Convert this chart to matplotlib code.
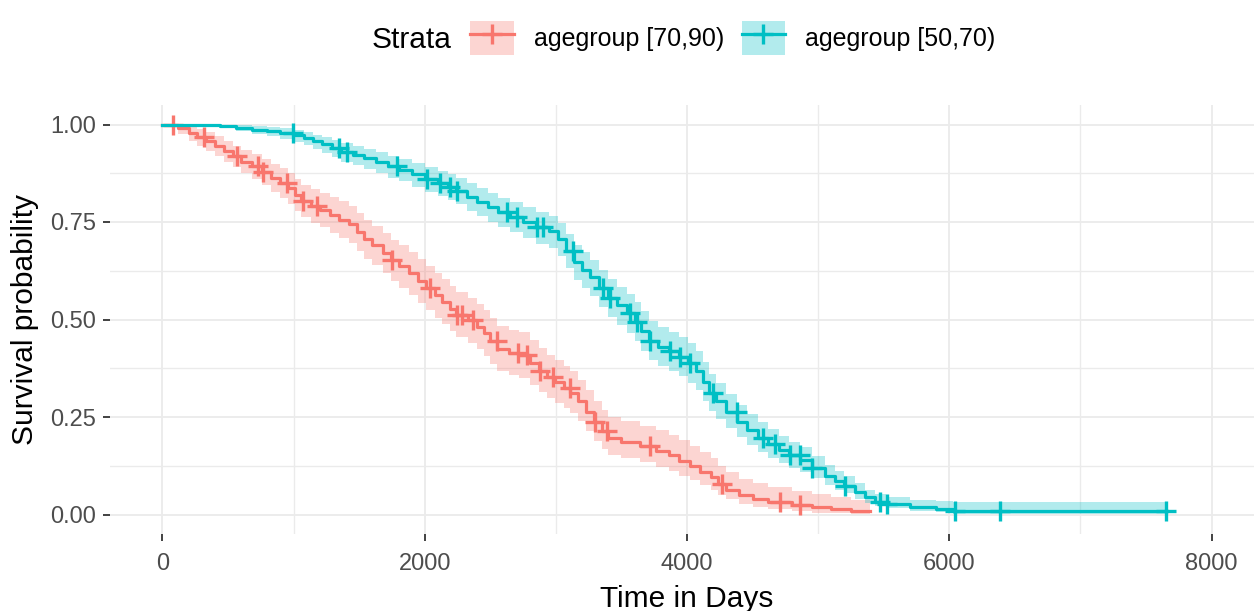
import numpy as np
import matplotlib
matplotlib.use("Agg")
import matplotlib.pyplot as plt
from matplotlib.patches import Patch
from matplotlib.lines import Line2D
from matplotlib.legend_handler import HandlerTuple

plt.rcParams['font.family'] = ['Liberation Sans', 'DejaVu Sans']

# agegroup [70,90): step times, survival, lower / upper CI
old_t = [0, 120, 200, 260, 330, 400, 470, 540, 600, 680, 760, 830, 900, 960, 1010,
         1060, 1130, 1200, 1280, 1350, 1420, 1480, 1540, 1600, 1680, 1740, 1800, 1880,
         1950, 2010, 2080, 2130, 2190, 2240, 2330, 2400, 2450, 2500, 2550, 2640, 2720,
         2800, 2870, 2930, 2990, 3060, 3110, 3170, 3230, 3290, 3350, 3400, 3500, 3640,
         3760, 3860, 3940, 4020, 4100, 4180, 4240, 4300, 4400, 4500, 4620, 4800, 4950,
         5100, 5250, 5393]
old_s = [1.000, 0.990, 0.978, 0.968, 0.958, 0.945, 0.932, 0.918, 0.905, 0.893, 0.878,
         0.864, 0.850, 0.836, 0.818, 0.803, 0.790, 0.780, 0.768, 0.756, 0.744, 0.725,
         0.706, 0.690, 0.670, 0.652, 0.636, 0.618, 0.598, 0.580, 0.562, 0.546, 0.528,
         0.512, 0.498, 0.482, 0.465, 0.445, 0.425, 0.415, 0.408, 0.388, 0.368, 0.352,
         0.340, 0.325, 0.312, 0.290, 0.262, 0.236, 0.214, 0.197, 0.187, 0.176, 0.164,
         0.152, 0.138, 0.124, 0.110, 0.096, 0.078, 0.064, 0.050, 0.040, 0.032, 0.024,
         0.018, 0.013, 0.008, 0.008]
old_lo = [1.000, 0.975, 0.958, 0.945, 0.933, 0.918, 0.905, 0.890, 0.875, 0.860, 0.844,
          0.828, 0.812, 0.797, 0.778, 0.762, 0.748, 0.736, 0.723, 0.710, 0.697, 0.676,
          0.656, 0.640, 0.618, 0.599, 0.582, 0.563, 0.542, 0.524, 0.505, 0.489, 0.470,
          0.454, 0.440, 0.424, 0.407, 0.387, 0.368, 0.358, 0.351, 0.332, 0.313, 0.298,
          0.286, 0.272, 0.260, 0.239, 0.213, 0.189, 0.169, 0.153, 0.144, 0.134, 0.123,
          0.112, 0.100, 0.088, 0.076, 0.064, 0.050, 0.039, 0.028, 0.020, 0.014, 0.009,
          0.005, 0.003, 0.001, 0.001]
old_hi = [1.000, 1.000, 0.993, 0.988, 0.980, 0.970, 0.958, 0.945, 0.934, 0.925, 0.912,
          0.900, 0.888, 0.875, 0.860, 0.846, 0.834, 0.825, 0.814, 0.803, 0.792, 0.774,
          0.756, 0.741, 0.722, 0.705, 0.690, 0.673, 0.654, 0.637, 0.620, 0.604, 0.586,
          0.570, 0.556, 0.541, 0.524, 0.504, 0.484, 0.474, 0.467, 0.447, 0.426, 0.410,
          0.397, 0.382, 0.368, 0.346, 0.318, 0.291, 0.268, 0.250, 0.240, 0.228, 0.216,
          0.204, 0.190, 0.175, 0.160, 0.144, 0.124, 0.108, 0.092, 0.080, 0.070, 0.060,
          0.052, 0.045, 0.038, 0.038]
old_cens = [80, 320, 572, 725, 763, 946, 1068, 1182, 1754, 2037, 2243, 2288, 2365, 2548,
            2708, 2777, 2876, 2975, 3105, 3295, 3387, 3715, 4264, 4707, 4859]

# agegroup [50,70)
young_t = [0, 440, 560, 680, 800, 900, 1000, 1080, 1150, 1220, 1290, 1360, 1450, 1540,
           1630, 1720, 1800, 1900, 2000, 2100, 2180, 2240, 2320, 2400, 2480, 2560, 2650,
           2750, 2850, 2950, 3020, 3080, 3140, 3200, 3260, 3330, 3400, 3470, 3540, 3600,
           3650, 3710, 3780, 3860, 3940, 4010, 4070, 4120, 4170, 4220, 4300, 4380, 4460,
           4540, 4620, 4700, 4780, 4860, 4950, 5050, 5130, 5200, 5280, 5360, 5430, 5520,
           5700, 5900, 6030, 7659]
young_s = [1.000, 0.997, 0.992, 0.987, 0.983, 0.978, 0.972, 0.965, 0.957, 0.950, 0.940,
           0.930, 0.922, 0.913, 0.903, 0.893, 0.884, 0.872, 0.860, 0.850, 0.840, 0.830,
           0.815, 0.802, 0.789, 0.776, 0.764, 0.750, 0.736, 0.726, 0.706, 0.676, 0.648,
           0.628, 0.608, 0.580, 0.556, 0.536, 0.516, 0.494, 0.470, 0.446, 0.430, 0.418,
           0.405, 0.388, 0.368, 0.340, 0.312, 0.290, 0.264, 0.238, 0.216, 0.196, 0.180,
           0.166, 0.152, 0.140, 0.120, 0.100, 0.086, 0.074, 0.058, 0.044, 0.033, 0.028,
           0.020, 0.015, 0.008, 0.008]
young_lo = [1.000, 0.991, 0.983, 0.976, 0.970, 0.964, 0.956, 0.947, 0.937, 0.928, 0.916,
            0.905, 0.896, 0.886, 0.875, 0.864, 0.854, 0.841, 0.828, 0.817, 0.806, 0.795,
            0.779, 0.765, 0.751, 0.737, 0.724, 0.709, 0.694, 0.683, 0.662, 0.631, 0.602,
            0.581, 0.560, 0.531, 0.507, 0.486, 0.466, 0.444, 0.420, 0.396, 0.380, 0.368,
            0.355, 0.338, 0.318, 0.292, 0.266, 0.245, 0.221, 0.198, 0.178, 0.160, 0.146,
            0.133, 0.120, 0.110, 0.093, 0.076, 0.064, 0.054, 0.041, 0.030, 0.021, 0.016,
            0.010, 0.006, 0.002, 0.002]
young_hi = [1.000, 1.000, 1.000, 0.996, 0.993, 0.990, 0.986, 0.980, 0.974, 0.968, 0.960,
            0.952, 0.945, 0.937, 0.929, 0.920, 0.912, 0.901, 0.890, 0.881, 0.872, 0.863,
            0.849, 0.836, 0.824, 0.812, 0.801, 0.788, 0.775, 0.766, 0.747, 0.718, 0.691,
            0.672, 0.653, 0.626, 0.603, 0.584, 0.565, 0.544, 0.521, 0.497, 0.481, 0.469,
            0.456, 0.439, 0.419, 0.390, 0.360, 0.337, 0.310, 0.282, 0.258, 0.236, 0.218,
            0.202, 0.187, 0.173, 0.150, 0.128, 0.112, 0.098, 0.080, 0.064, 0.052, 0.045,
            0.036, 0.034, 0.033, 0.033]
young_cens = [992, 1350, 1404, 1785, 2014, 2113, 2189, 2243, 2624, 2700, 2853, 2899, 3128,
              3356, 3410, 3562, 3616, 3715, 3867, 3944, 4020, 4195, 4379, 4577, 4669, 4783,
              4859, 4950, 5202, 5469, 5523, 6041, 6385, 7650]

labels = ["agegroup [70,90)", "agegroup [50,70)"]
colors = ["#F8766D", "#00BFC4"]

W, H = 1254, 611
fig = plt.figure(figsize=(W / 100, H / 100), dpi=100)
ax = fig.add_axes([110 / W, 1 - 534 / H, (1264 - 110) / W, (534 - 105) / H])

groups = [(old_t, old_s, old_lo, old_hi, old_cens),
          (young_t, young_s, young_lo, young_hi, young_cens)]

for (t, s, lo, hi, cens), col in zip(groups, colors):
    ax.fill_between(t, lo, hi, step="post", color=col, alpha=0.3, lw=0)
for (t, s, lo, hi, cens), col in zip(groups, colors):
    ax.step(t, s, where="post", color=col, lw=2.3)
    idx = np.searchsorted(t, cens, side="right") - 1
    ax.plot(cens, np.array(s)[idx], ls="none", marker="+", color=col,
            markersize=15, markeredgewidth=2.4)

ax.set_xlim(-400, 8400)
ax.set_ylim(-0.05, 1.05)
ax.set_xticks([0, 2000, 4000, 6000, 8000])
ax.set_xticks([1000, 3000, 5000, 7000], minor=True)
ax.set_yticks([0, 0.25, 0.5, 0.75, 1.0])
ax.set_yticklabels(["0.00", "0.25", "0.50", "0.75", "1.00"])
ax.set_yticks([0.125, 0.375, 0.625, 0.875], minor=True)
ax.grid(True, which="major", color="#EBEBEB", lw=1.3)
ax.grid(True, which="minor", color="#EBEBEB", lw=1.0)
ax.set_axisbelow(True)
for sp in ax.spines.values():
    sp.set_visible(False)
ax.tick_params(which="major", length=5, width=1.3, color="#333333",
               labelsize=17, labelcolor="#4D4D4D", pad=5)
ax.tick_params(axis="x", which="major", pad=9)
ax.tick_params(which="minor", length=0)

ax.set_xlabel("Time in Days", fontsize=21.5, labelpad=7)
ax.set_ylabel("Survival probability", fontsize=21.5, labelpad=8)

fig.text(372 / W, 1 - 40 / H, "Strata", fontsize=21.5, va="center", ha="left")
handles = []
for col in colors:
    handles.append((Patch(facecolor=col, alpha=0.3, lw=0),
                    Line2D([], [], color=col, lw=2.3, marker="+",
                           markersize=15, markeredgewidth=2.4)))
fig.legend(handles, labels, handler_map={tuple: HandlerTuple(ndivide=1)},
           loc="center left", bbox_to_anchor=(470 / W, 1 - 38 / H), ncol=2,
           frameon=False, fontsize=18, handlelength=1.75, handleheight=1.7,
           handletextpad=0.8, columnspacing=0.7, borderpad=0, borderaxespad=0)

fig.savefig("out.png", dpi=100)
